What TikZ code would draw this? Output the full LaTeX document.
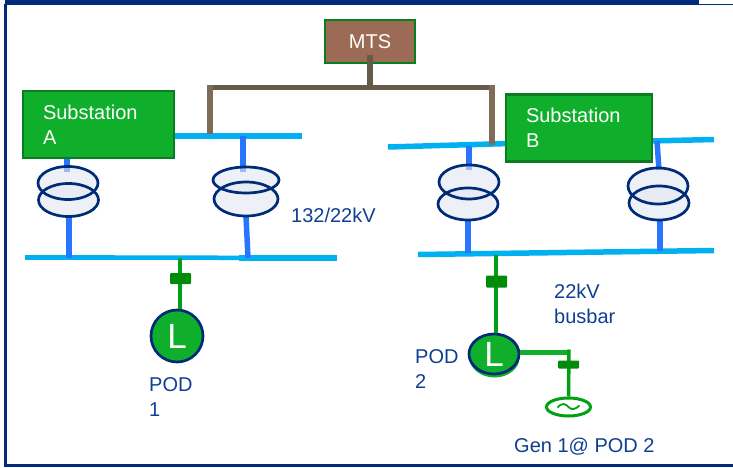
\documentclass[tikz,border=0pt]{standalone}
\usepackage{fontspec}
\setmainfont{Liberation Sans}
\usepackage{xcolor}
\usetikzlibrary{shapes.geometric, positioning, calc}
\definecolor{framenavy}{RGB}{0, 43, 118}
\definecolor{subgreen}{RGB}{16, 175, 43}
\definecolor{subedge}{RGB}{10, 125, 32}
\definecolor{mtsbrown}{RGB}{155, 107, 85}
\definecolor{linkdark}{RGB}{102, 90, 72}
\definecolor{linklight}{RGB}{127, 108, 88}
\definecolor{buscyan}{RGB}{0, 176, 240}
\definecolor{tapblue}{RGB}{41, 117, 255}
\definecolor{feedgreen}{RGB}{0, 160, 20}
\definecolor{breakergreen}{RGB}{0, 140, 10}
\definecolor{labelblue}{RGB}{15, 63, 147}
\definecolor{windfill}{RGB}{225, 231, 242}
\tikzset{
  stationbox/.style={draw=subedge, fill=subgreen, line width=2.5pt, text=white, minimum height=67pt, inner sep=0pt, align=left, font=\fontsize{20}{25}\selectfont},
  mtsbox/.style={draw=subedge, fill=mtsbrown, line width=2.5pt, text=white, minimum width=90pt, minimum height=43pt, inner sep=0pt, font=\fontsize{20}{25}\selectfont},
  busbar/.style={buscyan, line width=5.5pt},
  tapline/.style={tapblue, line width=5.5pt},
  windingfill/.style={ellipse, fill=windfill, fill opacity=0.6, inner sep=0pt},
  windingline/.style={ellipse, draw=framenavy, line width=2.7pt, inner sep=0pt},
  feeder/.style={feedgreen, line width=3.5pt},
  breaker/.style={fill=breakergreen, rounded corners=1pt, inner sep=0pt},
  loadnode/.style={ellipse, draw=framenavy, fill=subgreen, line width=2.7pt, text=white, inner sep=0pt, font=\fontsize{35}{35}\selectfont},
  note/.style={text=labelblue, inner sep=0pt, anchor=west, align=left, font=\fontsize{20}{25}\selectfont},
}
\begin{document}
\begin{tikzpicture}[x=1pt, y=-1pt]
  \useasboundingbox (0,0) rectangle (733,468);
  % outer frame
  \fill[framenavy] (5,0) rectangle (699,5.5);
  \draw[framenavy, line width=1.5pt] (699,4.5) -- (733,4.5);
  \draw[framenavy, line width=2.5pt] (5.5,4) -- (5.5,465.5) -- (733,465.5);

  % boxes
  \node[mtsbox] (mts) at (370,41.5) {MTS};
  \coordinate (mtsfoot) at (370,55);
  \coordinate (junction) at (370,88);
  \coordinate (linkA) at (210,88);
  \coordinate (linkB) at (492,88);
  \coordinate (linkAend) at (210,134);
  \coordinate (linkBend) at (492,145);

  % 132kV busbars
  \coordinate (busAleft) at (175,136);
  \coordinate (busAright) at (302,136);
  \coordinate (busBleft) at (388,147);
  \coordinate (busBmid) at (510,143.5);
  \coordinate (busBfar) at (650,141);
  \coordinate (busBright) at (714,139.5);
  \draw[busbar] (busAleft) -- (busAright);
  \draw[busbar] (busBleft) -- (busBmid);
  \draw[busbar] (busBfar) -- (busBright);

  % 22kV busbars
  \coordinate (lowAleft) at (25,257.5);
  \coordinate (lowAmid) at (115,257.5);
  \coordinate (lowAmid2) at (239,257.8);
  \coordinate (lowAright) at (337,257.8);
  \coordinate (lowBleft) at (418,254.5);
  \coordinate (lowBright) at (714,250.5);
  \draw[busbar] (lowAleft) -- (lowAmid);
  \draw[buscyan, line width=4.5pt] (lowAmid) -- (lowAmid2);
  \draw[busbar] (lowAmid2) -- (lowAright);
  \draw[busbar] (lowBleft) -- (lowBright);

  \node[stationbox, minimum width=151pt, text width=111pt] (subA) at (98.5,124.5) {Substation\\A};
  \node[stationbox, minimum width=146pt, text width=106pt] (subB) at (579,128) {Substation\\B};

  % link to the substations
  \draw[linkdark, line width=6pt] (mtsfoot) -- (junction);
  \draw[linkdark, line width=5pt] (linkA) -- (linkB);
  \draw[linklight, line width=6pt] ($(linkA)+(0,-2.5)$) -- (linkAend);
  \draw[linklight, line width=6pt] ($(linkB)+(0,-2.5)$) -- (linkBend);

  % transformer tap points
  \coordinate (tapA) at (67,159);
  \coordinate (tapA2) at (67,172);
  \coordinate (tapA3) at (69,216);
  \coordinate (tapA4) at (69,258);
  \coordinate (tapB) at (243,136);
  \coordinate (tapB2) at (243,172);
  \coordinate (tapB3) at (246,216);
  \coordinate (tapB4) at (248,258);
  \coordinate (tapC) at (469,146);
  \coordinate (tapC2) at (469,170);
  \coordinate (tapC3) at (468,220);
  \coordinate (tapC4) at (468,253);
  \coordinate (tapD) at (657,141);
  \coordinate (tapD2) at (659,170);
  \coordinate (tapD3) at (660,220);
  \coordinate (tapD4) at (660,251);
  \draw[tapline] (tapA) -- (tapA2);
  \draw[tapline] (tapA3) -- (tapA4);
  \draw[tapline] (tapB) -- (tapB2);
  \draw[tapline] (tapB3) -- (tapB4);
  \draw[tapline] (tapC) -- (tapC2);
  \draw[tapline] (tapC3) -- (tapC4);
  \draw[tapline] (tapD) -- (tapD2);
  \draw[tapline] (tapD3) -- (tapD4);

  % transformers: fills first, outlines on top
  \foreach \tf/\cx/\cy/\wd/\ht in {A1/68/183/60/33, A2/68.5/200/60/33, B1/246/180/66/26, B2/246/199/64/34, C1/469/182/60/34, C2/468/204/60/32, D1/658/186/60/36, D2/659/203/60/34} {
    \node[windingfill, minimum width=\wd pt, minimum height=\ht pt] (fill\tf) at (\cx,\cy) {};
  }
  \foreach \tf/\cx/\cy/\wd/\ht in {A1/68/183/60/33, A2/68.5/200/60/33, B1/246/180/66/26, B2/246/199/64/34, C1/469/182/60/34, C2/468/204/60/32, D1/658/186/60/36, D2/659/203/60/34} {
    \node[windingline, minimum width=\wd pt, minimum height=\ht pt] (tf\tf) at (\cx,\cy) {};
  }

  % POD 1
  \node[loadnode, minimum width=52pt, minimum height=52pt] (load1) at (177,336) {L};
  \coordinate (drop1) at (180,258);
  \draw[feeder] (drop1) -- (load1.north -| drop1);
  \node[breaker, minimum width=21pt, minimum height=11pt] (brk1) at (180.5,278.5) {};

  % POD 2
  \fill[subgreen] (494.5,357.5) ellipse (25pt and 20pt);
  \node[loadnode, minimum width=50pt, minimum height=40pt] (load2) at (494,354) {L};
  \coordinate (drop2) at (496,255);
  \draw[feeder] (drop2) -- (load2.north -| drop2);
  \node[breaker, minimum width=21pt, minimum height=12pt] (brk2) at (496.5,281.5) {};

  % generator
  \node[ellipse, draw=feedgreen, line width=3pt, minimum width=44pt, minimum height=18pt, inner sep=0pt] (gen1) at (568.5,407) {};
  \draw[feedgreen, line width=1.8pt] ($(gen1)+(-11,0.5)$) .. controls ($(gen1)+(-6,-5)$) and ($(gen1)+(-3,-3)$) .. ($(gen1)+(0,0)$) .. controls ($(gen1)+(3,3)$) and ($(gen1)+(6,3)$) .. ($(gen1)+(11,-1.5)$);
  \coordinate (genbend) at (569,352);
  \draw[subgreen, line width=5pt] (load2.east |- genbend) -- (genbend);
  \draw[feeder] ($(genbend)+(0,-2.5)$) -- (gen1.north);
  \node[breaker, minimum width=21pt, minimum height=8pt] (brk3) at (568.5,364.5) {};

  % labels
  \node[note] (ratio) at (291,215.5) {132/22kV};
  \node[note] (busnote) at (554,303.5) {22kV\\busbar};
  \node[note] (pod1) at (149,397) {POD\\1};
  \node[note] (pod2) at (415,369.5) {POD\\2};
  \node[note] (gennote) at (514,447) {Gen 1@ POD 2};
\end{tikzpicture}
\end{document}
